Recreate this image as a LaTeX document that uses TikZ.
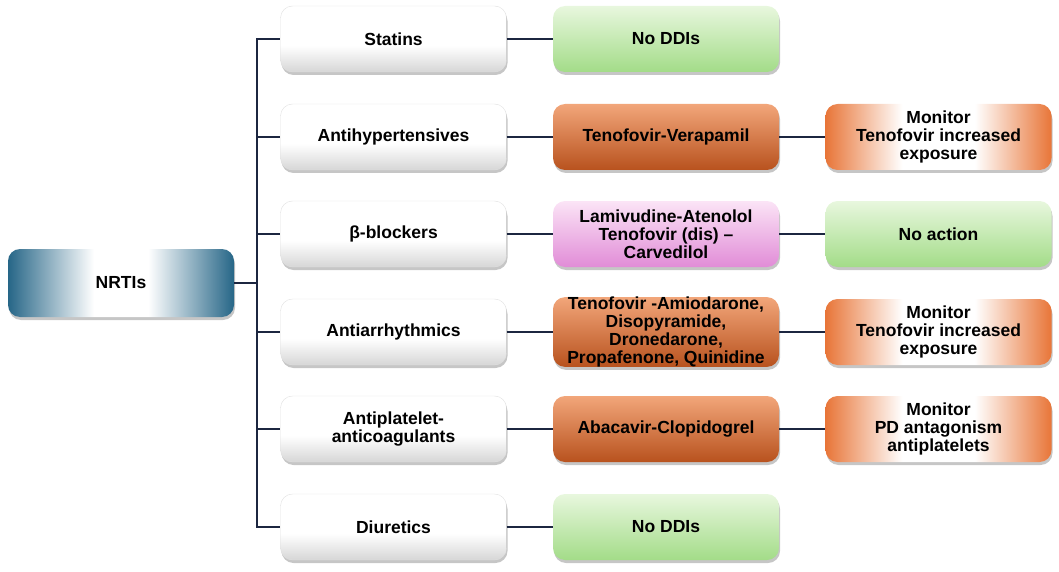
\documentclass[tikz,border=0pt]{standalone}
\usepackage{fontspec}
\setmainfont{Liberation Sans}
\usepackage{tikz}
\usetikzlibrary{shadows}

\definecolor{linknavy}{RGB}{28,38,64}
\definecolor{leafgreen}{RGB}{163,220,136}
\definecolor{leafgreenlt}{RGB}{232,247,222}
\definecolor{rusttop}{RGB}{242,166,122}
\definecolor{rustmid}{RGB}{232,121,63}
\definecolor{rustbot}{RGB}{184,82,30}
\definecolor{pinktop}{RGB}{251,228,246}
\definecolor{pinkbot}{RGB}{225,140,215}

% glow shadings: white in the middle, colour at the sides
\pgfdeclarehorizontalshading{tealglow}{100bp}{rgb(0bp)=(0.15,0.40,0.53); rgb(25bp)=(0.15,0.40,0.53); rgb(44bp)=(1,1,1); rgb(56bp)=(1,1,1); rgb(75bp)=(0.15,0.40,0.53); rgb(100bp)=(0.15,0.40,0.53)}
\pgfdeclarehorizontalshading{rustglow}{100bp}{rgb(0bp)=(0.91,0.46,0.22); rgb(25bp)=(0.91,0.46,0.22); rgb(42bp)=(1,1,1); rgb(58bp)=(1,1,1); rgb(75bp)=(0.91,0.46,0.22); rgb(100bp)=(0.91,0.46,0.22)}
% white paper with a grey foot
\pgfdeclareverticalshading{paper}{100bp}{rgb(0bp)=(0.84,0.84,0.84); rgb(25bp)=(0.84,0.84,0.84); rgb(45bp)=(1,1,1); rgb(100bp)=(1,1,1)}

\tikzset{
  box/.style={rounded corners=12pt, minimum width=226pt, minimum height=66pt,
    inner sep=0pt, align=center, font=\fontsize{17.5}{17.8}\selectfont\bfseries,
    drop shadow={shadow xshift=1pt, shadow yshift=-3pt, fill=black!50, opacity=.45}},
  classbox/.style={box, draw=black!12, shading=paper},
  greenbox/.style={box, top color=leafgreenlt, bottom color=leafgreen},
  rustbox/.style={box, top color=rusttop, middle color=rustmid, bottom color=rustbot},
  pinkbox/.style={box, top color=pinktop, bottom color=pinkbot},
  glowbox/.style={box, shading=rustglow},
  nrtibox/.style={box, shading=tealglow, minimum height=68pt},
  link/.style={linknavy, line width=2pt}
}

\begin{document}
\begin{tikzpicture}[x=1pt,y=-1pt]
\useasboundingbox (0,0) rectangle (1059,572);
\node[nrtibox] (nrti) at (121,283) {NRTIs};
\coordinate (trunk) at (257,283);
\draw[link] (nrti) -- (trunk);
\foreach \i/\y/\t in {1/39/Statins, 2/137/Antihypertensives, 3/234/β-blockers,
    4/332/Antiarrhythmics, 5/429/{Antiplatelet-\\anticoagulants}, 6/527/Diuretics} {
  \draw[link] (trunk) |- (280,\y);
  \node[classbox] (cls\i) at (393.5,\y) {\t};
}
% interactions
\node[greenbox] (ddi1) at (666,39) {No DDIs};
\node[rustbox] (ddi2) at (666,137) {Tenofovir-Verapamil};
\node[pinkbox] (ddi3) at (666,234) {Lamivudine-Atenolol\\Tenofovir (dis) –\\Carvedilol};
\node[rustbox] (ddi4) at (666,332) {Tenofovir -Amiodarone,\\Disopyramide,\\Dronedarone,\\Propafenone, Quinidine};
\node[rustbox] (ddi5) at (666,429) {Abacavir-Clopidogrel};
\node[greenbox] (ddi6) at (666,527) {No DDIs};
\foreach \i in {1,...,6} \draw[link] (cls\i) -- (ddi\i);
% actions
\node[glowbox] (act2) at (938.5,137) {Monitor\\Tenofovir increased\\exposure};
\node[greenbox] (act3) at (938.5,234) {No action};
\node[glowbox] (act4) at (938.5,332) {Monitor\\Tenofovir increased\\exposure};
\node[glowbox] (act5) at (938.5,429) {Monitor\\PD antagonism\\antiplatelets};
\foreach \i in {2,...,5} \draw[link] (ddi\i) -- (act\i);
\end{tikzpicture}
\end{document}
